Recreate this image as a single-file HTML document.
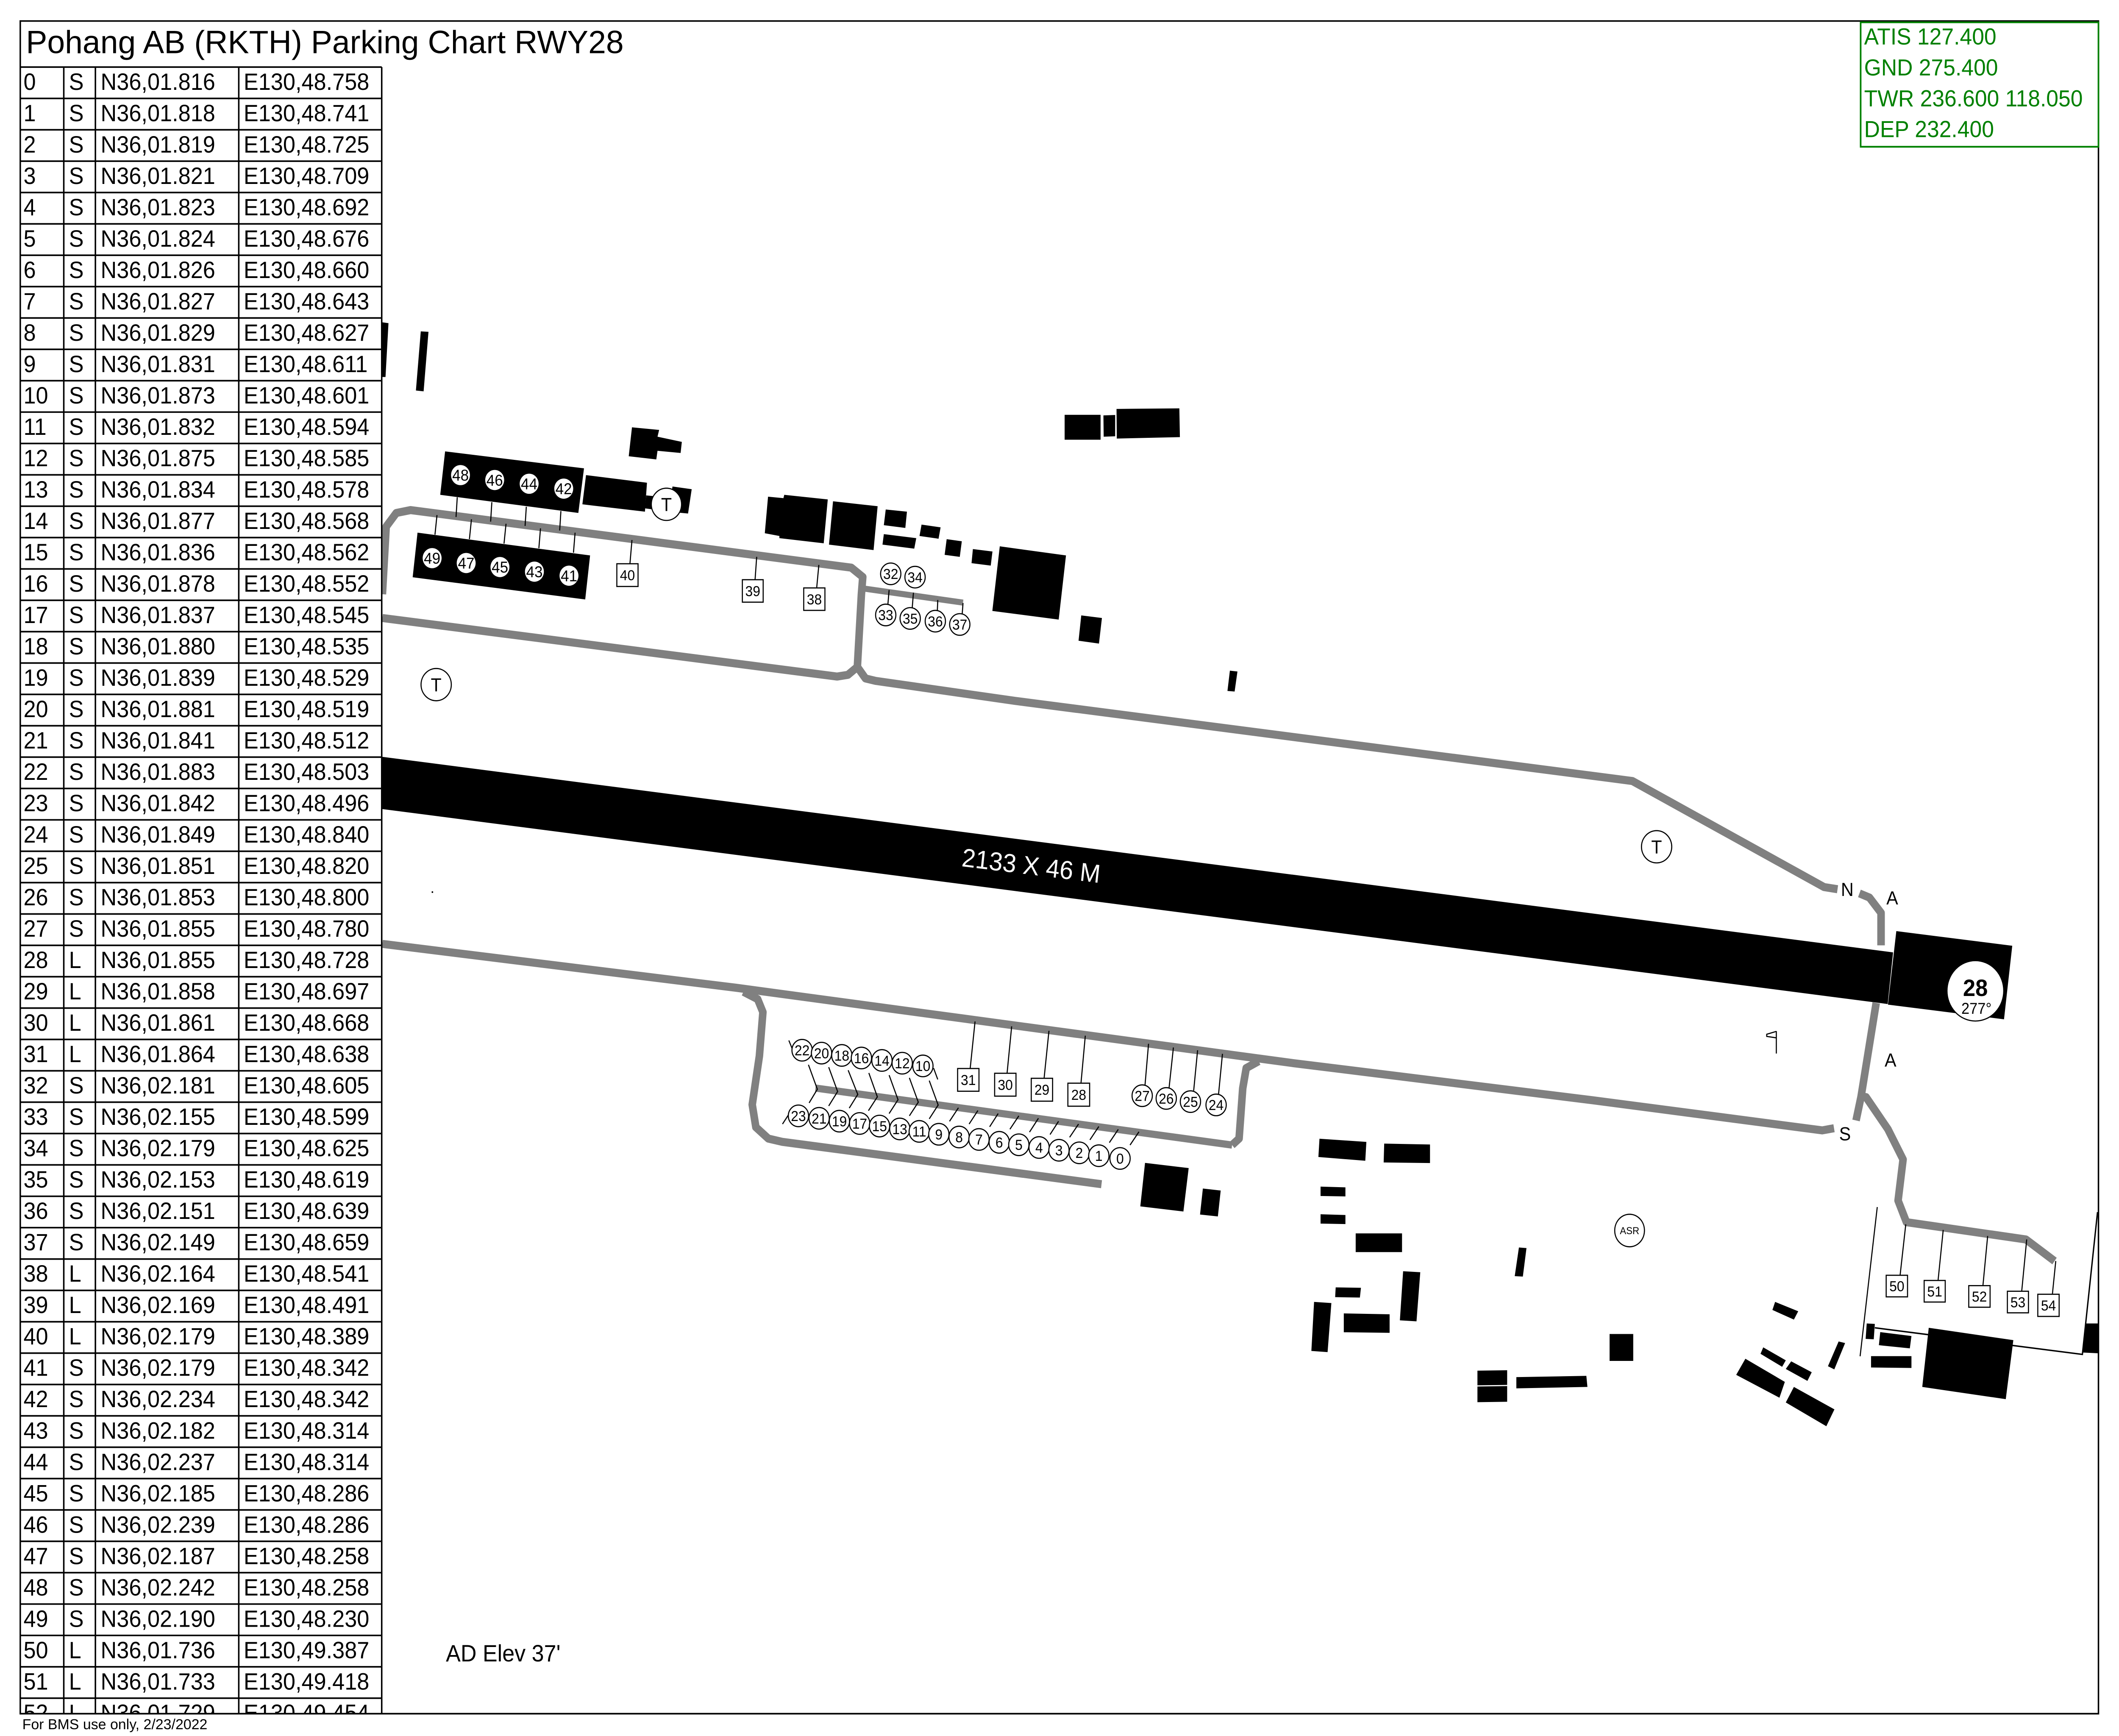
<!DOCTYPE html>
<html><head><meta charset="utf-8"><style>
html,body{margin:0;padding:0;background:#fff;overflow:hidden;width:100%;height:100%}
svg{display:block;width:100vw;height:100vh;position:absolute;left:0;top:0}
text{font-family:"Liberation Sans",Arial,sans-serif}
.c{fill:#fff;stroke:#000;stroke-width:.8}
.w{fill:#fff}
.b{fill:#000}
.tw{fill:none;stroke:#808080;stroke-width:5.6;stroke-linejoin:round}
.ln{fill:none;stroke:#000;stroke-width:.8}
.n{font-size:10px;text-anchor:middle}
.lb{font-size:13px;text-anchor:middle}
</style></head><body>
<svg xmlns="http://www.w3.org/2000/svg" width="100%" height="100%" viewBox="0 0 1568.2 1206.5" preserveAspectRatio="none">
<rect x="0" y="0" width="1568.2" height="1206.5" fill="#fff"/>
<defs><clipPath id="fr"><rect x="15" y="14.6" width="1538" height="1176.4"/></clipPath></defs>
<g clip-path="url(#fr)">
<!-- runway -->
<polygon class="b" points="270,524.4 1401,661.9 1397,697.8 270,560.7"/>
<polygon class="b" points="1403.4,647.1 1489.2,657.3 1483.1,708.4 1397.2,698.2"/>
<text x="711.3" y="602" font-size="18" fill="#fff" textLength="103" lengthAdjust="spacingAndGlyphs" transform="rotate(6.5 711.3 602)">2133 X 46 M</text>
<circle cx="1461.9" cy="688.6" r="21" class="c"/>
<text x="1461.9" y="692.2" font-size="16.5" font-weight="bold" text-anchor="middle">28</text>
<text x="1462.7" y="704.6" font-size="10.8" text-anchor="middle">277°</text>

<!-- taxiways -->
<path class="tw" d="M283,413 L285.8,366 L293.3,356.5 L303.9,354.5 L630,394.5 L638.5,401 L637.5,413 L634.5,463.5"/>
<path class="tw" d="M283,429.5 L619.5,470.2 L627.5,469 L634.5,463.5 L640.5,471.5 L648,473.2 L751.2,487.1 L1208.1,542.8 L1349.9,616.5 L1359.9,618"/>
<path class="tw" d="M1376.1,620.9 L1383.5,623.8 L1392.1,634.4 L1392.1,657"/>
<path class="tw" d="M283,656 L544.9,686.5 L957.3,738.9 L1178.2,764.6 L1348.6,785.6 L1357.3,784.1"/>
<path class="tw" d="M1373.6,778.7 L1377.3,762.2 L1388.5,697"/>
<path class="tw" d="M1377.3,762.2 L1381,762.5 L1397.2,784.8 L1408.4,805.8 L1404.7,834.4 L1410.9,849.4 L1499.3,861.4 L1520.5,876.4"/>
<path class="tw" d="M550.2,689.3 L560.7,694.4 L564.6,703.4 L562,733.9 L556.7,767.7 L559.4,783.4 L568.6,791.3 L579.1,793.6 L815.2,823"/>
<path class="tw" d="M931.5,737.5 L922.3,742.3 L919.7,756.4 L917,791.3 L911.8,795.8"/>
<path class="tw" style="stroke-width:5" d="M603.5,756.2 L911.8,795.8"/>
<path class="tw" style="stroke-width:4.2" d="M637.5,408.8 L712.7,418.8"/>

<!-- north buildings -->
<polygon class="b" points="283,224 287.5,224.6 285.3,262 283,262"/>
<polygon class="b" points="311.4,230.3 317.1,230.6 313.5,272 307.8,271.4"/>
<polygon class="b" points="467.7,297 487.8,298.8 486.6,303.5 504.6,307.1 503.7,314.8 486.6,313.3 485.7,319.3 465.3,317.1"/>
<polygon class="b" points="329.4,313.7 432.2,325.5 428,356.5 325.8,343.9"/>
<polygon class="b" points="309,370.2 436.7,386 433.1,416.6 305.4,401.2"/>
<polygon class="b" points="433.7,330.2 478.8,335.5 477.3,355.6 431,350.5"/>
<polygon class="b" points="478.2,344.3 492,345.5 491,355 477.3,353.3"/>
<polygon class="b" points="497.7,338.1 511.9,340 509.2,356.9 494.7,355.6"/>
<polygon class="b" points="568.4,345.2 579.8,346.2 580.4,343.9 612.6,347.1 609.6,377.6 576.8,374 576.8,372.5 566,370.6"/>
<polygon class="b" points="616.5,348.4 649.5,351.8 646.5,382.3 613.5,378.5"/>
<polygon class="b" points="655.5,354.1 671.2,355.6 670,366.9 654.1,365"/>
<polygon class="b" points="654.1,371.2 678.1,374 676.6,381.3 653.1,378.5"/>
<polygon class="b" points="682,364.6 696.1,366.5 694.6,374.4 680.5,372.5"/>
<polygon class="b" points="700.6,374.7 711.8,376.2 710.3,387 699.1,385.6"/>
<polygon class="b" points="720,381.6 734.5,383.3 733.2,393.1 719,391.4"/>
<polygon class="b" points="739.9,379.7 788.9,386 783.5,430.6 734.4,424.6"/>
<polygon class="b" points="800.2,427.7 815.5,429.5 813.3,447.3 798.2,445.3"/>
<polygon class="b" points="910.2,466.1 915.8,466.7 913.7,480.6 908.4,480.2"/>
<polygon class="b" points="787.9,288.3 814.5,288.3 814.5,305.6 787.9,305.6"/>
<polygon class="b" points="816.6,288.7 825.3,288.4 825.3,303.2 816.8,303.5"/>
<polygon class="b" points="826.3,284.2 872.8,283.8 873.2,303.8 826.5,304.8"/>

<!-- south buildings -->
<polygon class="b" points="847.4,808.2 879.7,811.8 875.8,842 843.9,838.4"/>
<polygon class="b" points="890.2,826 903.4,827.4 901.3,845.4 888.1,844.1"/>
<polygon class="b" points="976.5,791.4 1011.2,793.6 1010.4,806.7 975.7,804.1"/>
<polygon class="b" points="1024.4,794.8 1058.3,795.4 1058.3,808.3 1024,807.9"/>
<polygon class="b" points="977.3,824.7 995.7,825.2 995.7,831.5 977.3,831.2"/>
<polygon class="b" points="977.3,843.9 995.7,844.4 995.7,850.7 977.3,850.4"/>
<polygon class="b" points="1003.3,857.2 1037.6,857.2 1037.6,870.2 1003.3,870.2"/>
<polygon class="b" points="1124.1,867 1129.7,867.4 1127,887.2 1121,886.9"/>
<polygon class="b" points="1038.4,883.5 1051.1,884.2 1048.3,918.3 1036,917.6"/>
<polygon class="b" points="988.5,894.7 1007.2,895 1006.4,901.8 988.1,901.5"/>
<polygon class="b" points="972.5,904.8 985.3,905.6 982.5,939.7 970.5,938.9"/>
<polygon class="b" points="994.5,912.8 1028.4,913.4 1028.4,926.3 994.5,925.9"/>
<polygon class="b" points="1191.2,927.1 1208.7,927.1 1208.7,945.8 1191.2,945.8"/>
<polygon class="b" points="1093.4,952.6 1115.4,952.3 1115.4,962.5 1093.4,962.8"/>
<polygon class="b" points="1093.4,963.6 1115.4,963.3 1115.4,974.2 1093.4,974.5"/>
<polygon class="b" points="1122.2,957.1 1174,956.2 1174.8,963.9 1122.2,964.9"/>
<polygon class="b" points="1313.7,904.8 1330.8,911.3 1327.6,917.1 1311.7,910.4"/>
<polygon class="b" points="1304.9,936.4 1321.6,945.4 1318.9,949.9 1302.9,940.9"/>
<polygon class="b" points="1325.6,946.1 1340.8,953.7 1337.6,959.7 1321.6,951.4"/>
<polygon class="b" points="1291.7,944.3 1320.9,960.4 1316.9,971.4 1284.9,955.5"/>
<polygon class="b" points="1327.6,963.9 1357.6,979.5 1351.6,991.2 1321.6,974.7"/>
<polygon class="b" points="1360.7,932.3 1365.5,933.4 1357.5,951.7 1352.8,949.5"/>
<polygon class="b" points="1381.5,919.8 1387.5,920.1 1386.7,930.8 1380.7,930.5"/>
<polygon class="b" points="1391.5,925.8 1414.6,928.5 1413.4,937.1 1390.5,934.9"/>
<polygon class="b" points="1384.7,942.5 1414.6,942.5 1414.6,950.7 1384.7,950.4"/>
<polygon class="b" points="1427.4,922.8 1490,931.4 1484.4,972.4 1422.6,963.9"/>
<polygon class="b" points="1543.1,919.8 1553,919.8 1553,940.5 1541.5,940"/>

<!-- thin boundary lines -->
<path class="ln" d="M1389.3,838.9 L1376.6,942.6"/>
<path class="ln" style="stroke-width:1" d="M1387.5,922.8 L1541.1,941.3 L1552.3,842.4"/>

<!-- stand lines -->
<path class="ln" d="M338.4,345.6 L337.5,359.3 M364,349 L363.1,362.5 M389.5,352.2 L388.6,365.5 M415.1,355.2 L414.2,368.7
M323.4,358 L321.9,371.6 M348.9,360.9 L347.4,374.7 M374.5,364 L373,377.8 M400,367.2 L398.8,381 M425.6,370.2 L424.4,384.1
M467.7,375.3 L466.2,391.8 M560,387 L558.8,402.9 M606,392.6 L604.4,408.6
M658,410.1 L657.1,420 M676,411.9 L675.1,422.5 M694,417 L693.7,424.3 M712.7,419.1 L712.1,426.6
M721.6,709.9 L718,742.6 M748.7,713.3 L745.3,745.9 M776.3,716.4 L772.7,749.4 M803.2,719.8 L800,752.8
M850,725.4 L847.4,754 M868.4,728 L865.2,756 M886.3,729.9 L883.4,758 M904.7,732.4 L901.8,760.5
M598.3,740 L604.9,757 L598.8,766.5 M613.3,741.7 L619.9,758.6 L613.3,768.6 M627.7,743.8 L634.8,760.6 L628.5,770.1 M643,745.7 L649.3,762.3 L642.7,771.9 M658,747.2 L664.6,764.3 L658,773.9 M673,749.1 L679.6,766 L673,775.5 M687.7,751 L694.3,768 L687.7,777.6
M709.3,769.9 L702.7,779.3 M723.7,771.8 L717.2,781.2 M738.7,773.9 L732.4,783.1 M754,775.5 L747.4,784.8 M768.5,777.2 L761.9,786.8 M783.4,779.3 L777.1,788.5 M798.2,781.2 L791.6,790.4 M813.2,782.9 L806.6,792.2 M827.6,784.9 L821,794.1 M842.9,786.6 L836.3,795.8
M583.8,723.1 L587,730.5 M579.1,781.2 L583.8,774.4 M690.9,742.3 L694,750.2
M1410.4,850.9 L1406.2,886.3 M1438.1,854.8 L1434.3,889.9 M1471,859 L1467.5,893.5 M1499.9,861.4 L1496.2,897.4 M1521.4,876.4 L1518.9,899.5"/>

<!-- north white circles in blocks -->
<g font-size="11" text-anchor="middle">
<circle cx="340.8" cy="330.2" r="7" class="w"/><text x="340.8" y="334.1">48</text>
<circle cx="366.1" cy="333.6" r="7" class="w"/><text x="366.1" y="337.5">46</text>
<circle cx="391.6" cy="336.2" r="7" class="w"/><text x="391.6" y="340.1">44</text>
<circle cx="417.2" cy="339.6" r="7" class="w"/><text x="417.2" y="343.5">42</text>
<circle cx="319.8" cy="387.9" r="7" class="w"/><text x="319.8" y="391.8">49</text>
<circle cx="345" cy="391.3" r="7" class="w"/><text x="345" y="395.2">47</text>
<circle cx="370" cy="394.1" r="7" class="w"/><text x="370" y="398">45</text>
<circle cx="395.5" cy="397.3" r="7" class="w"/><text x="395.5" y="401.2">43</text>
<circle cx="421.1" cy="400.1" r="7" class="w"/><text x="421.1" y="404">41</text>
</g>

<!-- outlined circles -->
<g class="n">
<circle cx="659.2" cy="398.8" r="7.5" class="c"/><text x="659.2" y="402.4">32</text>
<circle cx="677.2" cy="401.1" r="7.5" class="c"/><text x="677.2" y="404.7">34</text>
<circle cx="655.5" cy="427.4" r="7.5" class="c"/><text x="655.5" y="431">33</text>
<circle cx="673.6" cy="429.8" r="7.5" class="c"/><text x="673.6" y="433.4">35</text>
<circle cx="692.2" cy="431.7" r="7.5" class="c"/><text x="692.2" y="435.3">36</text>
<circle cx="710.3" cy="434" r="7.5" class="c"/><text x="710.3" y="437.6">37</text>

<circle cx="593.6" cy="729.9" r="7.5" class="c"/><text x="593.6" y="733.5">22</text>
<circle cx="608" cy="731.9" r="7.5" class="c"/><text x="608" y="735.5">20</text>
<circle cx="623" cy="733.5" r="7.5" class="c"/><text x="623" y="737.1">18</text>
<circle cx="637.5" cy="735.3" r="7.5" class="c"/><text x="637.5" y="738.9">16</text>
<circle cx="652.7" cy="737" r="7.5" class="c"/><text x="652.7" y="740.6">14</text>
<circle cx="667.7" cy="738.9" r="7.5" class="c"/><text x="667.7" y="742.5">12</text>
<circle cx="683" cy="740.8" r="7.5" class="c"/><text x="683" y="744.4">10</text>

<circle cx="590.9" cy="775.5" r="7.5" class="c"/><text x="590.9" y="779.1">23</text>
<circle cx="606.2" cy="777.2" r="7.5" class="c"/><text x="606.2" y="780.8">21</text>
<circle cx="621.2" cy="779.2" r="7.5" class="c"/><text x="621.2" y="782.8">19</text>
<circle cx="636.2" cy="780.8" r="7.5" class="c"/><text x="636.2" y="784.4">17</text>
<circle cx="650.9" cy="782.6" r="7.5" class="c"/><text x="650.9" y="786.2">15</text>
<circle cx="665.9" cy="784.6" r="7.5" class="c"/><text x="665.9" y="788.2">13</text>
<circle cx="680.3" cy="786.3" r="7.5" class="c"/><text x="680.3" y="789.9">11</text>
<circle cx="694.8" cy="788.3" r="7.5" class="c"/><text x="694.8" y="791.9">9</text>
<circle cx="709.8" cy="790.2" r="7.5" class="c"/><text x="709.8" y="793.8">8</text>
<circle cx="724.5" cy="791.9" r="7.5" class="c"/><text x="724.5" y="795.5">7</text>
<circle cx="739.5" cy="793.9" r="7.5" class="c"/><text x="739.5" y="797.5">6</text>
<circle cx="754" cy="795.6" r="7.5" class="c"/><text x="754" y="799.2">5</text>
<circle cx="769" cy="797.5" r="7.5" class="c"/><text x="769" y="801.1">4</text>
<circle cx="783.7" cy="799.4" r="7.5" class="c"/><text x="783.7" y="803">3</text>
<circle cx="798.7" cy="801.2" r="7.5" class="c"/><text x="798.7" y="804.8">2</text>
<circle cx="813.2" cy="803.2" r="7.5" class="c"/><text x="813.2" y="806.8">1</text>
<circle cx="828.9" cy="805.1" r="7.5" class="c"/><text x="828.9" y="808.7">0</text>

<circle cx="845.3" cy="761.5" r="7.5" class="c"/><text x="845.3" y="765.1">27</text>
<circle cx="863.1" cy="763.4" r="7.5" class="c"/><text x="863.1" y="767">26</text>
<circle cx="881" cy="765.6" r="7.5" class="c"/><text x="881" y="769.2">25</text>
<circle cx="900" cy="767.9" r="7.5" class="c"/><text x="900" y="771.5">24</text>
</g>

<!-- squares -->
<g class="n">
<rect x="456.5" y="391.8" width="15.7" height="15.8" class="c"/><text x="464.35" y="403.3">40</text>
<rect x="549.4" y="402.9" width="15.4" height="15.6" class="c"/><text x="557.1" y="414.3">39</text>
<rect x="594.8" y="408.6" width="15.7" height="15.6" class="c"/><text x="602.65" y="420">38</text>
<rect x="708.7" y="742.6" width="15.8" height="15.8" class="c"/><text x="716.6" y="754.1">31</text>
<rect x="736.1" y="745.9" width="15.8" height="15.9" class="c"/><text x="744" y="757.4">30</text>
<rect x="763.2" y="749.4" width="15.8" height="15.9" class="c"/><text x="771.1" y="760.9">29</text>
<rect x="790.3" y="752.8" width="16.1" height="16" class="c"/><text x="798.35" y="764.4">28</text>
<rect x="1395.9" y="886.3" width="15.8" height="15" class="c"/><text x="1403.8" y="897.4">50</text>
<rect x="1424" y="889.9" width="15.6" height="15" class="c"/><text x="1431.8" y="901">51</text>
<rect x="1457" y="893.5" width="15.8" height="15" class="c"/><text x="1464.9" y="904.6">52</text>
<rect x="1485.6" y="897.4" width="15.6" height="15" class="c"/><text x="1493.4" y="908.5">53</text>
<rect x="1508.1" y="899.5" width="15.8" height="15.4" class="c"/><text x="1516" y="910.8">54</text>
</g>

<!-- T circles & labels -->
<g class="lb">
<circle cx="493.2" cy="350.5" r="11.2" class="c"/><text x="493.2" y="355.2">T</text>
<circle cx="322.8" cy="475.8" r="11.2" class="c"/><text x="322.8" y="480.5">T</text>
<circle cx="1226" cy="588.5" r="11.2" class="c"/><text x="1226" y="593.2">T</text>
<text x="1367.1" y="622.7">N</text>
<text x="1400.4" y="628.6">A</text>
<text x="1399.1" y="741.3">A</text>
<text x="1365.4" y="792.5">S</text>
</g>
<ellipse cx="1206" cy="855.2" rx="11" ry="11.3" class="c"/>
<text x="1206" y="857.7" font-size="7" text-anchor="middle">ASR</text>

<!-- windsock -->
<path class="ln" d="M1314.6,716.6 L1314.6,732.2 M1314.6,716.8 L1307.5,718.8 L1307.5,720.3 L1314.6,721.3"/>
<circle cx="320" cy="620" r="0.6" fill="#000"/>
<text x="330" y="1154.7" font-size="16.3" textLength="84.8" lengthAdjust="spacingAndGlyphs">AD Elev 37'</text>
</g>

<!-- table -->
<rect x="15" y="14.6" width="267.5" height="1176.4" fill="#fff"/>
<g clip-path="url(#fr)">
<text x="19.2" y="37" font-size="22.5" textLength="442.4" lengthAdjust="spacingAndGlyphs">Pohang AB (RKTH) Parking Chart RWY28</text>
<path fill="none" stroke="#000" stroke-width="1.1" d="M15,46.6H282.5M15,68.4H282.5M15,90.2H282.5M15,112H282.5M15,133.8H282.5M15,155.6H282.5M15,177.4H282.5M15,199.2H282.5M15,221H282.5M15,242.8H282.5M15,264.6H282.5M15,286.4H282.5M15,308.2H282.5M15,330H282.5M15,351.8H282.5M15,373.6H282.5M15,395.4H282.5M15,417.2H282.5M15,439H282.5M15,460.8H282.5M15,482.6H282.5M15,504.4H282.5M15,526.2H282.5M15,548H282.5M15,569.8H282.5M15,591.6H282.5M15,613.4H282.5M15,635.2H282.5M15,657H282.5M15,678.8H282.5M15,700.6H282.5M15,722.4H282.5M15,744.2H282.5M15,766H282.5M15,787.8H282.5M15,809.6H282.5M15,831.4H282.5M15,853.2H282.5M15,875H282.5M15,896.8H282.5M15,918.6H282.5M15,940.4H282.5M15,962.2H282.5M15,984H282.5M15,1005.8H282.5M15,1027.6H282.5M15,1049.4H282.5M15,1071.2H282.5M15,1093H282.5M15,1114.8H282.5M15,1136.6H282.5M15,1158.4H282.5M15,1180.2H282.5M47.2,46.6V1191M70.6,46.6V1191M176.7,46.6V1191M282.5,46.6V1191"/>
<g font-size="16.4">
<text y="62.4"><tspan x="17.4">0</tspan><tspan x="51">S</tspan><tspan x="74.5">N36,01.816</tspan><tspan x="180.3">E130,48.758</tspan></text>
<text y="84.2"><tspan x="17.4">1</tspan><tspan x="51">S</tspan><tspan x="74.5">N36,01.818</tspan><tspan x="180.3">E130,48.741</tspan></text>
<text y="106"><tspan x="17.4">2</tspan><tspan x="51">S</tspan><tspan x="74.5">N36,01.819</tspan><tspan x="180.3">E130,48.725</tspan></text>
<text y="127.8"><tspan x="17.4">3</tspan><tspan x="51">S</tspan><tspan x="74.5">N36,01.821</tspan><tspan x="180.3">E130,48.709</tspan></text>
<text y="149.6"><tspan x="17.4">4</tspan><tspan x="51">S</tspan><tspan x="74.5">N36,01.823</tspan><tspan x="180.3">E130,48.692</tspan></text>
<text y="171.4"><tspan x="17.4">5</tspan><tspan x="51">S</tspan><tspan x="74.5">N36,01.824</tspan><tspan x="180.3">E130,48.676</tspan></text>
<text y="193.2"><tspan x="17.4">6</tspan><tspan x="51">S</tspan><tspan x="74.5">N36,01.826</tspan><tspan x="180.3">E130,48.660</tspan></text>
<text y="215"><tspan x="17.4">7</tspan><tspan x="51">S</tspan><tspan x="74.5">N36,01.827</tspan><tspan x="180.3">E130,48.643</tspan></text>
<text y="236.8"><tspan x="17.4">8</tspan><tspan x="51">S</tspan><tspan x="74.5">N36,01.829</tspan><tspan x="180.3">E130,48.627</tspan></text>
<text y="258.6"><tspan x="17.4">9</tspan><tspan x="51">S</tspan><tspan x="74.5">N36,01.831</tspan><tspan x="180.3">E130,48.611</tspan></text>
<text y="280.4"><tspan x="17.4">10</tspan><tspan x="51">S</tspan><tspan x="74.5">N36,01.873</tspan><tspan x="180.3">E130,48.601</tspan></text>
<text y="302.2"><tspan x="17.4">11</tspan><tspan x="51">S</tspan><tspan x="74.5">N36,01.832</tspan><tspan x="180.3">E130,48.594</tspan></text>
<text y="324"><tspan x="17.4">12</tspan><tspan x="51">S</tspan><tspan x="74.5">N36,01.875</tspan><tspan x="180.3">E130,48.585</tspan></text>
<text y="345.8"><tspan x="17.4">13</tspan><tspan x="51">S</tspan><tspan x="74.5">N36,01.834</tspan><tspan x="180.3">E130,48.578</tspan></text>
<text y="367.6"><tspan x="17.4">14</tspan><tspan x="51">S</tspan><tspan x="74.5">N36,01.877</tspan><tspan x="180.3">E130,48.568</tspan></text>
<text y="389.4"><tspan x="17.4">15</tspan><tspan x="51">S</tspan><tspan x="74.5">N36,01.836</tspan><tspan x="180.3">E130,48.562</tspan></text>
<text y="411.2"><tspan x="17.4">16</tspan><tspan x="51">S</tspan><tspan x="74.5">N36,01.878</tspan><tspan x="180.3">E130,48.552</tspan></text>
<text y="433"><tspan x="17.4">17</tspan><tspan x="51">S</tspan><tspan x="74.5">N36,01.837</tspan><tspan x="180.3">E130,48.545</tspan></text>
<text y="454.8"><tspan x="17.4">18</tspan><tspan x="51">S</tspan><tspan x="74.5">N36,01.880</tspan><tspan x="180.3">E130,48.535</tspan></text>
<text y="476.6"><tspan x="17.4">19</tspan><tspan x="51">S</tspan><tspan x="74.5">N36,01.839</tspan><tspan x="180.3">E130,48.529</tspan></text>
<text y="498.4"><tspan x="17.4">20</tspan><tspan x="51">S</tspan><tspan x="74.5">N36,01.881</tspan><tspan x="180.3">E130,48.519</tspan></text>
<text y="520.2"><tspan x="17.4">21</tspan><tspan x="51">S</tspan><tspan x="74.5">N36,01.841</tspan><tspan x="180.3">E130,48.512</tspan></text>
<text y="542"><tspan x="17.4">22</tspan><tspan x="51">S</tspan><tspan x="74.5">N36,01.883</tspan><tspan x="180.3">E130,48.503</tspan></text>
<text y="563.8"><tspan x="17.4">23</tspan><tspan x="51">S</tspan><tspan x="74.5">N36,01.842</tspan><tspan x="180.3">E130,48.496</tspan></text>
<text y="585.6"><tspan x="17.4">24</tspan><tspan x="51">S</tspan><tspan x="74.5">N36,01.849</tspan><tspan x="180.3">E130,48.840</tspan></text>
<text y="607.4"><tspan x="17.4">25</tspan><tspan x="51">S</tspan><tspan x="74.5">N36,01.851</tspan><tspan x="180.3">E130,48.820</tspan></text>
<text y="629.2"><tspan x="17.4">26</tspan><tspan x="51">S</tspan><tspan x="74.5">N36,01.853</tspan><tspan x="180.3">E130,48.800</tspan></text>
<text y="651"><tspan x="17.4">27</tspan><tspan x="51">S</tspan><tspan x="74.5">N36,01.855</tspan><tspan x="180.3">E130,48.780</tspan></text>
<text y="672.8"><tspan x="17.4">28</tspan><tspan x="51">L</tspan><tspan x="74.5">N36,01.855</tspan><tspan x="180.3">E130,48.728</tspan></text>
<text y="694.6"><tspan x="17.4">29</tspan><tspan x="51">L</tspan><tspan x="74.5">N36,01.858</tspan><tspan x="180.3">E130,48.697</tspan></text>
<text y="716.4"><tspan x="17.4">30</tspan><tspan x="51">L</tspan><tspan x="74.5">N36,01.861</tspan><tspan x="180.3">E130,48.668</tspan></text>
<text y="738.2"><tspan x="17.4">31</tspan><tspan x="51">L</tspan><tspan x="74.5">N36,01.864</tspan><tspan x="180.3">E130,48.638</tspan></text>
<text y="760"><tspan x="17.4">32</tspan><tspan x="51">S</tspan><tspan x="74.5">N36,02.181</tspan><tspan x="180.3">E130,48.605</tspan></text>
<text y="781.8"><tspan x="17.4">33</tspan><tspan x="51">S</tspan><tspan x="74.5">N36,02.155</tspan><tspan x="180.3">E130,48.599</tspan></text>
<text y="803.6"><tspan x="17.4">34</tspan><tspan x="51">S</tspan><tspan x="74.5">N36,02.179</tspan><tspan x="180.3">E130,48.625</tspan></text>
<text y="825.4"><tspan x="17.4">35</tspan><tspan x="51">S</tspan><tspan x="74.5">N36,02.153</tspan><tspan x="180.3">E130,48.619</tspan></text>
<text y="847.2"><tspan x="17.4">36</tspan><tspan x="51">S</tspan><tspan x="74.5">N36,02.151</tspan><tspan x="180.3">E130,48.639</tspan></text>
<text y="869"><tspan x="17.4">37</tspan><tspan x="51">S</tspan><tspan x="74.5">N36,02.149</tspan><tspan x="180.3">E130,48.659</tspan></text>
<text y="890.8"><tspan x="17.4">38</tspan><tspan x="51">L</tspan><tspan x="74.5">N36,02.164</tspan><tspan x="180.3">E130,48.541</tspan></text>
<text y="912.6"><tspan x="17.4">39</tspan><tspan x="51">L</tspan><tspan x="74.5">N36,02.169</tspan><tspan x="180.3">E130,48.491</tspan></text>
<text y="934.4"><tspan x="17.4">40</tspan><tspan x="51">L</tspan><tspan x="74.5">N36,02.179</tspan><tspan x="180.3">E130,48.389</tspan></text>
<text y="956.2"><tspan x="17.4">41</tspan><tspan x="51">S</tspan><tspan x="74.5">N36,02.179</tspan><tspan x="180.3">E130,48.342</tspan></text>
<text y="978"><tspan x="17.4">42</tspan><tspan x="51">S</tspan><tspan x="74.5">N36,02.234</tspan><tspan x="180.3">E130,48.342</tspan></text>
<text y="999.8"><tspan x="17.4">43</tspan><tspan x="51">S</tspan><tspan x="74.5">N36,02.182</tspan><tspan x="180.3">E130,48.314</tspan></text>
<text y="1021.6"><tspan x="17.4">44</tspan><tspan x="51">S</tspan><tspan x="74.5">N36,02.237</tspan><tspan x="180.3">E130,48.314</tspan></text>
<text y="1043.4"><tspan x="17.4">45</tspan><tspan x="51">S</tspan><tspan x="74.5">N36,02.185</tspan><tspan x="180.3">E130,48.286</tspan></text>
<text y="1065.2"><tspan x="17.4">46</tspan><tspan x="51">S</tspan><tspan x="74.5">N36,02.239</tspan><tspan x="180.3">E130,48.286</tspan></text>
<text y="1087"><tspan x="17.4">47</tspan><tspan x="51">S</tspan><tspan x="74.5">N36,02.187</tspan><tspan x="180.3">E130,48.258</tspan></text>
<text y="1108.8"><tspan x="17.4">48</tspan><tspan x="51">S</tspan><tspan x="74.5">N36,02.242</tspan><tspan x="180.3">E130,48.258</tspan></text>
<text y="1130.6"><tspan x="17.4">49</tspan><tspan x="51">S</tspan><tspan x="74.5">N36,02.190</tspan><tspan x="180.3">E130,48.230</tspan></text>
<text y="1152.4"><tspan x="17.4">50</tspan><tspan x="51">L</tspan><tspan x="74.5">N36,01.736</tspan><tspan x="180.3">E130,49.387</tspan></text>
<text y="1174.2"><tspan x="17.4">51</tspan><tspan x="51">L</tspan><tspan x="74.5">N36,01.733</tspan><tspan x="180.3">E130,49.418</tspan></text>
<text y="1196"><tspan x="17.4">52</tspan><tspan x="51">L</tspan><tspan x="74.5">N36,01.729</tspan><tspan x="180.3">E130,49.454</tspan></text>
</g>
</g>

<!-- frame -->
<path fill="none" stroke="#000" stroke-width="1.1" d="M15,14.6 H1553 V1191 H15 Z"/>

<!-- frequency box -->
<rect x="1377" y="15.5" width="176" height="86.5" fill="#fff" stroke="#008000" stroke-width="1.2"/>
<g font-size="16.2" fill="#008000">
<text x="1379.6" y="30.9">ATIS 127.400</text>
<text x="1379.6" y="52.4">GND 275.400</text>
<text x="1379.6" y="73.9">TWR 236.600 118.050</text>
<text x="1379.6" y="95.3">DEP 232.400</text>
</g>

<text x="16.5" y="1201.8" font-size="10" textLength="137" lengthAdjust="spacingAndGlyphs">For BMS  use only, 2/23/2022</text>
</svg>
</body></html>
